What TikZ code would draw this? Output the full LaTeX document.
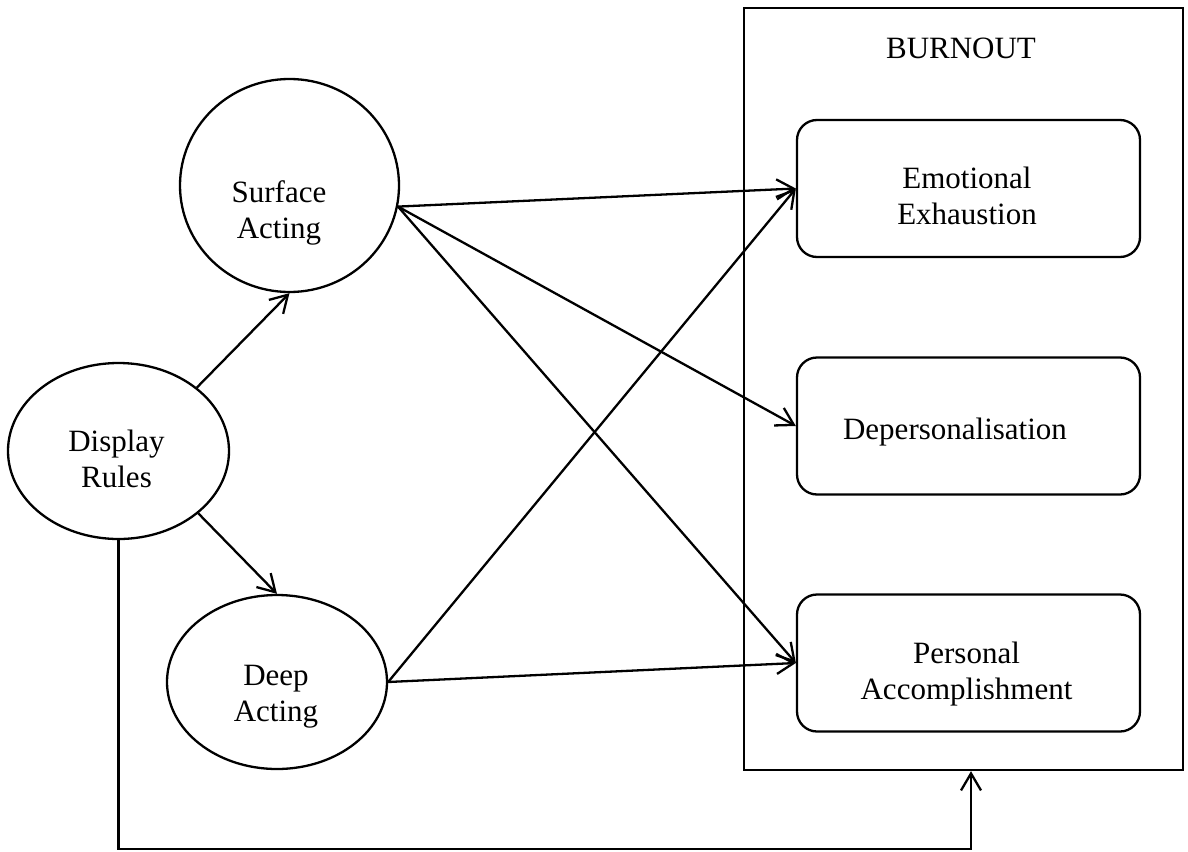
\documentclass[tikz,border=0pt]{standalone}
\usepackage{fontspec}
\setmainfont{Liberation Serif}
\usetikzlibrary{arrows.meta,shapes.geometric,calc}

\begin{document}
\begin{tikzpicture}[x=1pt,y=-1pt,line width=2.3pt,
  oval/.style={draw,ellipse,inner sep=0pt},
  factor/.style={draw,rounded corners=20pt,minimum width=343pt,minimum height=137pt,inner sep=0pt},
  lbl/.style={font=\fontsize{31}{36}\selectfont,align=center,inner sep=0pt},
  arr/.style={-{Straight Barb[length=17pt,width=20pt]}},
]
\useasboundingbox (0,0) rectangle (1188,851);

% antecedent and emotional labour strategies
\node[oval,minimum width=221pt,minimum height=176pt] (dr) at (118.5,451) {};
\node[oval,minimum width=219pt,minimum height=213pt] (sa) at (289.5,185.5) {};
\node[oval,minimum width=220pt,minimum height=174pt] (da) at (277,682) {};
\node[lbl] (drt) at (116.5,459) {Display\\Rules};
\node[lbl] (sat) at (279,213) {Surface\\Acting};
\node[lbl] (dat) at (276,697) {Deep\\Acting};

% burnout and its three dimensions
\node[draw,minimum width=439pt,minimum height=762pt,inner sep=0pt] (bo) at (963.5,389) {};
\node[lbl] (bot) at (961,48.5) {BURNOUT};
\node[factor] (ee) at (968.5,188.5) {};
\node[factor] (dp) at (968.5,426) {};
\node[factor] (pa) at (968.5,663) {};
\node[lbl] (eet) at (967,195.5) {Emotional\\Exhaustion};
\node[lbl] (dpt) at (955,432) {Depersonalisation};
\node[lbl] (pat) at (966.5,674) {Personal\\Accomplishment};

% paths
\draw[arr] (dr.39) -- (sa.south);
\draw[arr] (dr.-38) -- (da.north);
\draw[arr] (sa.-11) -- (ee.west);
\draw[arr] (sa.-11) -- (dp.west);
\draw[arr] (sa.-11) -- (pa.west);
\draw[arr] (da.east) -- (ee.west);
\draw[arr] (da.east) -- (pa.west);
\coordinate (turn) at (971,849);
\draw[arr] (dr.south) |- (turn) -- (turn |- bo.south);
\end{tikzpicture}
\end{document}
